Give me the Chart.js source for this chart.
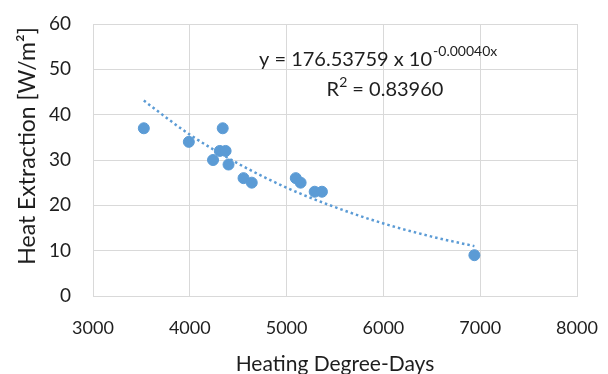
<!DOCTYPE html>
<html>
<head>
<meta charset="utf-8">
<script src="https://cdn.jsdelivr.net/npm/chart.js@4/dist/chart.umd.min.js"></script>
<style>
  html, body { margin: 0; padding: 0; background: #fff; }
  #wrap { width: 608px; height: 374px; }
</style>
</head>
<body>
<div id="wrap"><canvas id="myChart" width="608" height="374"></canvas></div>
<script>
// measured points (heating degree-days, heat extraction W/m2)
const degreeDays = [3525, 3990, 4340, 4310, 4370, 4240, 4400, 4555, 4640, 5095, 5145, 5290, 5365, 6940];
const heatExtraction = [37, 34, 37, 32, 32, 30, 29, 26, 25, 26, 25, 23, 23, 9];

// dotted trendline
const trendX = [3525, 4000, 4500, 5000, 5500, 6000, 6500, 6940];
const trendY = [43.1, 35.6, 29.2, 23.9, 19.6, 16.0, 13.1, 11.0];

const xTicks = [3000, 4000, 5000, 6000, 7000, 8000];
const yTicks = [0, 10, 20, 30, 40, 50, 60];

const yTitle = 'Heat Extraction [W/m²]';
const xTitle = 'Heating Degree-Days';
const equationText = 'y = 176.53759 x 10';
const equationExp = '-0.00040x';
const rSquaredText = '0.83960';

const FONT = 'Lato, "Open Sans", sans-serif';
const BLUE = '#5B9BD5';
const TEXT = '#1e1e1e';

function toPoints(xs, ys) {
  return xs.map((x, i) => ({ x: x, y: ys[i] }));
}

// y axis title (Excel puts it a bit above the middle) + trendline equation
const textLabels = {
  id: 'textLabels',
  afterDraw(chart) {
    const ctx = chart.ctx;
    ctx.save();
    ctx.fillStyle = TEXT;

    ctx.save();
    ctx.translate(28, 146);
    ctx.rotate(-Math.PI / 2);
    ctx.textAlign = 'center';
    ctx.textBaseline = 'middle';
    ctx.font = '23px ' + FONT;
    ctx.fillText(yTitle, 0, 0);
    ctx.restore();

    ctx.textBaseline = 'alphabetic';
    ctx.textAlign = 'left';
    ctx.font = '20px ' + FONT;
    const x0 = 259;
    ctx.fillText(equationText, x0, 66);
    const w = ctx.measureText(equationText).width;
    ctx.font = '14px ' + FONT;
    ctx.fillText(equationExp, x0 + w + 1, 56);

    // R² line
    ctx.font = '20px ' + FONT;
    const rest = ' = ' + rSquaredText;
    const wR = ctx.measureText('R').width;
    ctx.font = '14px ' + FONT;
    const w2 = ctx.measureText('2').width;
    ctx.font = '20px ' + FONT;
    const wRest = ctx.measureText(rest).width;
    let rx = 385 - (wR + w2 + wRest) / 2;
    ctx.fillText('R', rx, 96);
    ctx.font = '14px ' + FONT;
    ctx.fillText('2', rx + wR, 87);
    ctx.font = '20px ' + FONT;
    ctx.fillText(rest, rx + wR + w2, 96);
    ctx.restore();
  }
};

function initChart(canvas) {
  const data = {
    datasets: [
      {
        label: 'Heat Extraction',
        data: toPoints(degreeDays, heatExtraction),
        backgroundColor: BLUE,
        borderColor: BLUE,
        pointRadius: 5.5,
        showLine: false,
        order: 1
      },
      {
        label: 'Trend',
        data: toPoints(trendX, trendY),
        borderColor: BLUE,
        borderWidth: 2.5,
        borderDash: [2.5, 3],
        pointRadius: 0,
        showLine: true,
        cubicInterpolationMode: 'monotone',
        fill: false,
        order: 2
      }
    ]
  };

  const config = {
    type: 'scatter',
    data: data,
    options: {
      responsive: false,
      animation: false,
      layout: { padding: { top: 24, right: 31, bottom: 0, left: 0 } },
      plugins: {
        legend: { display: false },
        tooltip: { enabled: false }
      },
      scales: {
        x: {
          type: 'linear',
          min: 3000,
          max: 8000,
          afterBuildTicks: (scale) => { scale.ticks = xTicks.map((v) => ({ value: v })); },
          afterFit: (scale) => {
            scale.height = 78;
            scale.paddingLeft = 0;
            scale.paddingRight = 0;
          },
          grid: { color: '#D9D9D9', lineWidth: 1, drawTicks: false },
          border: { color: '#D9D9D9' },
          ticks: {
            color: TEXT,
            font: { family: FONT, size: 18 },
            padding: 21,
            maxRotation: 0,
            callback: (v) => String(v)
          },
          title: {
            display: true,
            text: xTitle,
            color: TEXT,
            font: { family: FONT, size: 21 },
            padding: { top: 0, bottom: -3 }
          }
        },
        y: {
          type: 'linear',
          min: 0,
          max: 60,
          afterBuildTicks: (scale) => { scale.ticks = yTicks.map((v) => ({ value: v })); },
          afterFit: (scale) => {
            scale.width = 93;
            scale.paddingTop = 0;
            scale.paddingBottom = 0;
          },
          grid: { color: '#D9D9D9', lineWidth: 1, drawTicks: false },
          border: { color: '#D9D9D9' },
          ticks: { color: TEXT, font: { family: FONT, size: 19 }, padding: 22 },
          title: { display: false }
        }
      }
    },
    plugins: [textLabels]
  };

  return new Chart(canvas, config);
}

document.addEventListener('DOMContentLoaded', () => {
  initChart(document.querySelector('#myChart'));
});
</script>
</body>
</html>
